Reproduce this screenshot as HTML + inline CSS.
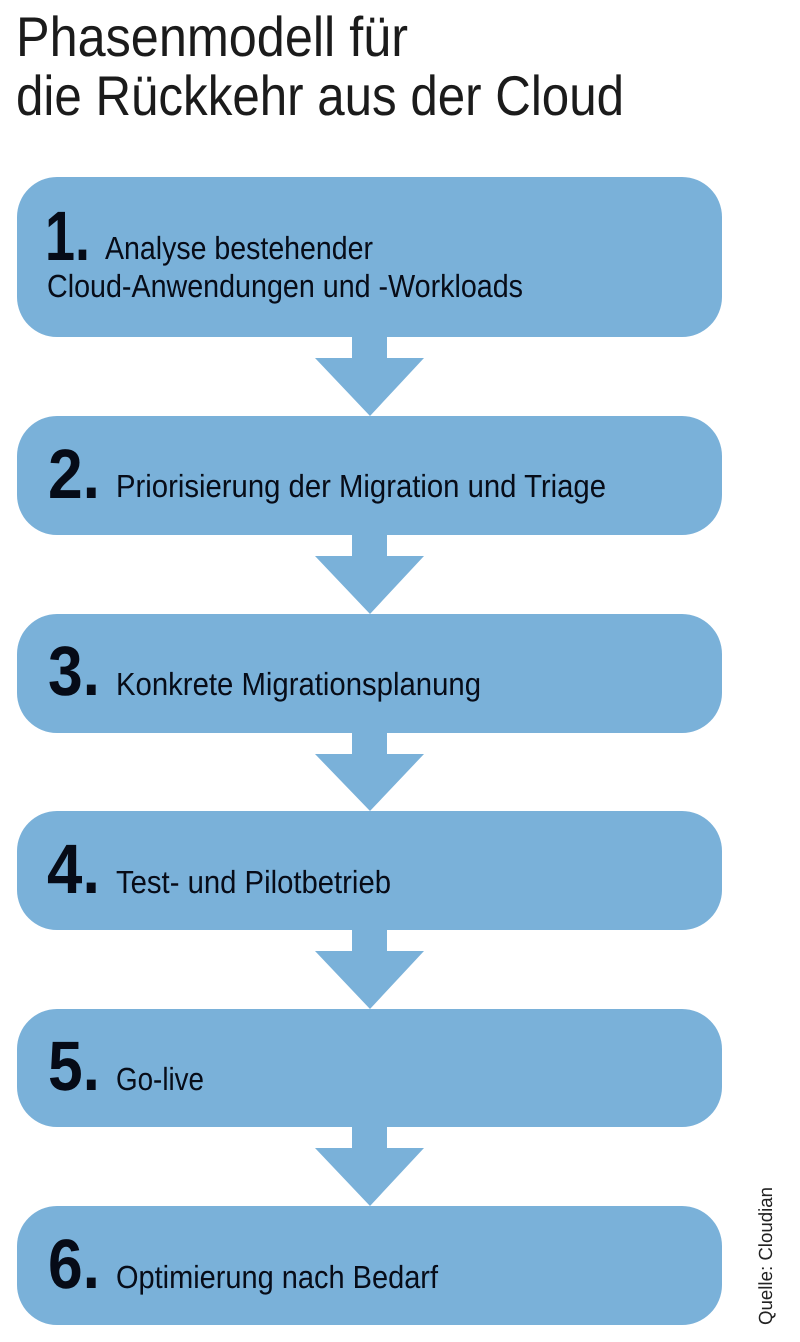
<!DOCTYPE html>
<html>
<head>
<meta charset="utf-8">
<style>
  html,body{margin:0;padding:0;background:#ffffff;}
  body{width:800px;height:1342px;overflow:hidden;}
  svg{display:block;}
  .t{font-family:"Liberation Sans",sans-serif;fill:#1b1b1b;font-size:56px;}
  .n{font-family:"Liberation Sans",sans-serif;font-weight:bold;fill:#060b17;font-size:70px;}
  .b{font-family:"Liberation Sans",sans-serif;fill:#070c18;font-size:32px;}
  .q{font-family:"Liberation Sans",sans-serif;fill:#222222;font-size:19px;}
</style>
</head>
<body>
<svg width="800" height="1342" viewBox="0 0 800 1342" xmlns="http://www.w3.org/2000/svg" text-rendering="geometricPrecision">
  <!-- Title -->
  <text class="t" x="16" y="56" textLength="392" lengthAdjust="spacingAndGlyphs">Phasenmodell für</text>
  <text class="t" x="16" y="115" textLength="608" lengthAdjust="spacingAndGlyphs">die Rückkehr aus der Cloud</text>

  <g fill="#7ab1d9">
    <!-- Boxes -->
    <rect x="17" y="177" width="705" height="160" rx="40" ry="40"/>
    <rect x="17" y="416" width="705" height="119" rx="40" ry="40"/>
    <rect x="17" y="614" width="705" height="119" rx="40" ry="40"/>
    <rect x="17" y="811" width="705" height="119" rx="40" ry="40"/>
    <rect x="17" y="1009" width="705" height="118" rx="40" ry="40"/>
    <rect x="17" y="1206" width="705" height="119" rx="40" ry="40"/>

    <!-- Arrows -->
    <path d="M352 336 H387 V358 H424 L370 416 L315 358 H352 Z"/>
    <path d="M352 534 H387 V556 H424 L370 614 L315 556 H352 Z"/>
    <path d="M352 732 H387 V754 H424 L370 811 L315 754 H352 Z"/>
    <path d="M352 929 H387 V951 H424 L370 1009 L315 951 H352 Z"/>
    <path d="M352 1126 H387 V1148 H424 L370 1206 L315 1148 H352 Z"/>
  </g>

  <!-- Step 1 -->
  <text class="n" x="45" y="260" textLength="45" lengthAdjust="spacingAndGlyphs">1.</text>
  <text class="b" x="105" y="259" textLength="268" lengthAdjust="spacingAndGlyphs">Analyse bestehender</text>
  <text class="b" x="47" y="297" textLength="476" lengthAdjust="spacingAndGlyphs">Cloud-Anwendungen und -Workloads</text>

  <!-- Step 2 -->
  <text class="n" x="48" y="498" textLength="52" lengthAdjust="spacingAndGlyphs">2.</text>
  <text class="b" x="116" y="497" textLength="490" lengthAdjust="spacingAndGlyphs">Priorisierung der Migration und Triage</text>

  <!-- Step 3 -->
  <text class="n" x="48" y="695" textLength="52" lengthAdjust="spacingAndGlyphs">3.</text>
  <text class="b" x="116" y="695" textLength="365" lengthAdjust="spacingAndGlyphs">Konkrete Migrationsplanung</text>

  <!-- Step 4 -->
  <text class="n" x="47" y="893" textLength="53" lengthAdjust="spacingAndGlyphs">4.</text>
  <text class="b" x="116" y="893" textLength="275" lengthAdjust="spacingAndGlyphs">Test- und Pilotbetrieb</text>

  <!-- Step 5 -->
  <text class="n" x="48" y="1090" textLength="52" lengthAdjust="spacingAndGlyphs">5.</text>
  <text class="b" x="116" y="1090" textLength="88" lengthAdjust="spacingAndGlyphs">Go-live</text>

  <!-- Step 6 -->
  <text class="n" x="48" y="1288" textLength="52" lengthAdjust="spacingAndGlyphs">6.</text>
  <text class="b" x="116" y="1288" textLength="322" lengthAdjust="spacingAndGlyphs">Optimierung nach Bedarf</text>

  <!-- Source -->
  <text class="q" transform="translate(772,1325) rotate(-90)" x="0" y="0" textLength="138" lengthAdjust="spacingAndGlyphs">Quelle: Cloudian</text>
</svg>
</body>
</html>
